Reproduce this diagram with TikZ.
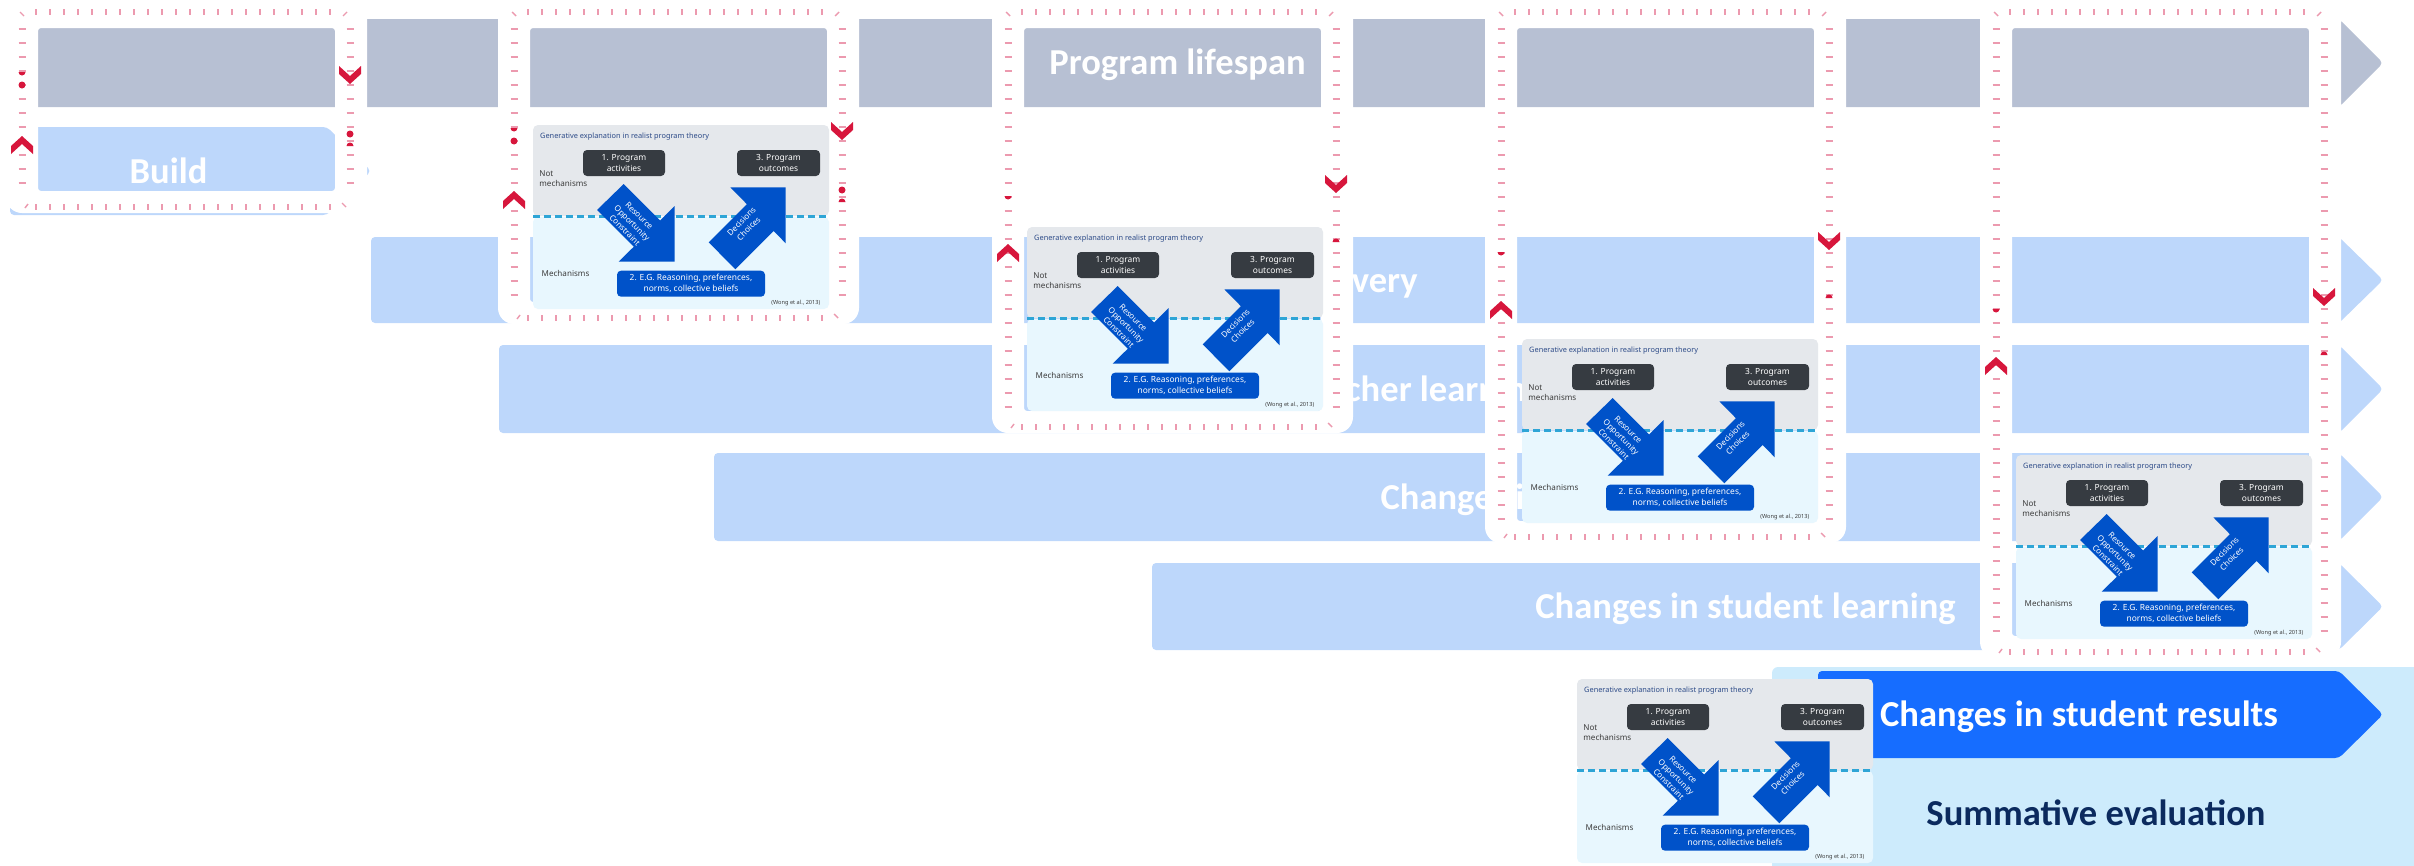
\documentclass[tikz,border=0pt]{standalone}
\usepackage{fontspec}
\setmainfont{Noto Sans}
\newfontfamily\barfont{Carlito}
\usepackage{tikz}

\definecolor{bargray}{HTML}{B7C0D3}
\definecolor{barblue}{HTML}{BDD7FB}
\definecolor{bardark}{HTML}{166DFF}
\definecolor{sumcyan}{HTML}{CDEBFC}
\definecolor{sumnavy}{HTML}{0B2A5E}
\definecolor{panelgray}{HTML}{E5E8EC}
\definecolor{panellight}{HTML}{E8F7FE}
\definecolor{panelcyan}{HTML}{2EA5D6}
\definecolor{paneltitle}{HTML}{2D4B88}
\definecolor{boxdark}{HTML}{363B41}
\definecolor{panelblue}{HTML}{0052C9}
\definecolor{labelgray}{HTML}{3C3C3C}
\definecolor{tickpink}{HTML}{EC9AAF}
\definecolor{markred}{HTML}{D7163C}

\tikzset{
  barlabel/.style={font=\barfont\bfseries\fontsize{10.4}{12}\selectfont, text=white, anchor=base, inner sep=0pt},
  framedash/.style={draw=tickpink, line width=0.4pt},
  ptext/.style={font=\fontsize{2.3}{2.9}\selectfont, text=labelgray, inner sep=0pt, align=left},
  pbox/.style={rounded corners=0.4mm, inner sep=0pt, text=white, align=center, font=\fontsize{2.4}{3.1}\selectfont},
  chevup/.pic={\fill[markred] (-11,9) -- (-11,1) -- (0,-9) -- (11,1) -- (11,9) -- (0,-1) -- cycle;},
  chevdown/.pic={\fill[markred] (-11,-9) -- (-11,-1) -- (0,9) -- (11,-1) -- (11,-9) -- (0,1) -- cycle;},
  genpanel/.pic={
    \fill[panelgray, rounded corners=0.5mm] (0,0) rectangle (296,91);
    \fill[panellight, rounded corners=0.5mm] (0,92) rectangle (296,184);
    \draw[panelcyan, line width=0.6pt, dash pattern=on 0.7mm off 0.4mm] (0,91.5) -- (296,91.5);
    % the two wide arrows
    \fill[panelblue] (64,85) -- (90.7,59) -- (127.1,95.4) -- (141.7,81) -- (141.7,136.7) -- (85.7,136.7) -- (100.75,121.75) -- cycle;
    \fill[panelblue] (175.7,117.3) -- (213.9,79.2) -- (197.3,62.3) -- (252.7,62.3) -- (252.7,118.3) -- (240.6,105.9) -- (202.3,144.3) -- cycle;
    \node[ptext, font=\bfseries\fontsize{2.1}{2.5}\selectfont, text=paneltitle, anchor=west] (-title) at (6.5,12) {Generative explanation in realist program theory};
    \node[pbox, fill=boxdark, minimum width=8.2mm, minimum height=2.6mm] (-act) at (91,38) {1. Program\\activities};
    \node[pbox, fill=boxdark, minimum width=8.3mm, minimum height=2.6mm] (-out) at (245.5,38) {3. Program\\outcomes};
    \node[ptext, anchor=west] (-notmech) at (5.7,54) {Not\\mechanisms};
    \node[ptext, anchor=west] (-mech) at (8,148) {Mechanisms};
    \node[pbox, fill=panelblue, minimum width=14.8mm, minimum height=2.6mm] (-reason) at (158,158.7) {2. E.G. Reasoning, preferences,\\norms, collective beliefs};
    \node[ptext, font=\fontsize{1.6}{2}\selectfont, anchor=east] (-cite) at (288,178) {(Wong et al., 2013)};
    \node[pbox, rotate=-45, font=\fontsize{2.3}{2.9}\selectfont] (-res) at (99,98) {Resource\\Opportunity\\Constraint};
    \node[pbox, rotate=45, font=\fontsize{2.3}{2.9}\selectfont] (-dec) at (212,100) {Decisions\\Choices};
  }
}

\begin{document}
\begin{tikzpicture}[x=0.1mm, y=-0.1mm]
\useasboundingbox (0,0) rectangle (2414,865);

% rows of the lifespan
\foreach \xl/\xr/\yt/\yb/\col/\txt/\nm in {
    16/2339/19/107/bargray/Program lifespan/lifespan,
    10/327/127/215/barblue/Build/build,
    371/2339/237/323/barblue/Delivery/delivery,
    499/2339/345/433/barblue/Teacher learning/teacher,
    714/2339/453/541/barblue/Changes in practice/practice,
    1152/2339/563/650/barblue/Changes in student learning/learning}
{
  \pgfmathsetmacro{\ym}{(\yt+\yb)/2}
  \fill[\col, rounded corners=0.4mm] (\xl,\yt) -- (\xr,\yt) -- (\xr+44,\ym) -- (\xr,\yb) -- (\xl,\yb) -- cycle;
  \node[barlabel] (\nm) at ({(\xl+\xr)/2},\ym+12) {\txt};
}

\fill[sumcyan, rounded corners=0.6mm] (1772,667) rectangle (2460,900);
\fill[bardark, rounded corners=0.4mm] (1818,671) -- (2339,671) -- (2383,714.5) -- (2339,758) -- (1818,758) -- cycle;
\node[barlabel] (results) at (2079,726.5) {Changes in student results};
\node[barlabel, text=sumnavy] (summative) at (2096,825) {Summative evaluation};

% zoom frames
\foreach \fx/\fb/\pl/\cl/\cr/\pr in {22/207/72/145/75/146, 514/318/128/200/131/202,
    1008/427/196/253/184/242, 1501/537/252/310/241/298, 1996/652/309/366/297/355}
{
  \fill[white, even odd rule] [rounded corners=1.6mm] (\fx-16,-4) rectangle (\fx+345,\fb+6)
    [rounded corners=0.3mm] (\fx+16,28) rectangle (\fx+313,\fb-16);
  \foreach \k in {0,...,21} {
    \draw[framedash] (\fx+14+14*\k,9) -- ++(0,6);
    \draw[framedash] (\fx+14+14*\k,\fb-3) -- ++(0,6);
  }
  \pgfmathtruncatemacro{\kn}{(\fb-40)/14}
  \foreach \k in {0,...,\kn} {
    \draw[framedash] (\fx-3.5,29+14*\k) -- ++(7,0);
    \draw[framedash] (\fx+324.5,29+14*\k) -- ++(7,0);
  }
  \draw[framedash] (\fx-2,12) -- ++(4,4);
  \draw[framedash] (\fx+321,16) -- ++(4,-4);
  \draw[framedash] (\fx+3,\fb+1) -- ++(3,-4);
  \draw[framedash] (\fx+320,\fb-4) -- ++(4,4);
  \fill[markred] (\fx+3.5,\pl) arc[start angle=0, end angle=180, radius=3.5] -- cycle;
  \fill[markred] (\fx+331.5,\pr) arc[start angle=0, end angle=-180, radius=3.5] -- cycle;
  \pic at (\fx,\cl) {chevup};
  \pic at (\fx+328,\cr) {chevdown};
}
\fill[markred] (22,85) circle (3.5) (514,141) circle (3.5) (350,134) circle (3.5) (842,190) circle (3.5);

% panels
\pic (panelB) at (533,125) {genpanel};
\pic (panelC) at (1027,227) {genpanel};
\pic (panelD) at (1522,339) {genpanel};
\pic (panelE) at (2016,455) {genpanel};
\pic (panelF) at (1577,679) {genpanel};
\end{tikzpicture}
\end{document}
